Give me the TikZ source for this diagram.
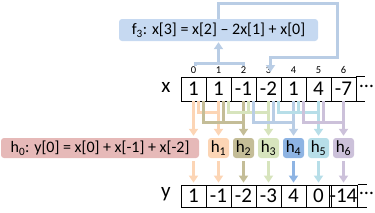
\documentclass[tikz,border=0pt]{standalone}
\usepackage{fontspec}
\setmainfont{Carlito}
\usetikzlibrary{arrows.meta}
\definecolor{fblue}{HTML}{C6D9F1}
\definecolor{fline}{HTML}{B9CDE5}
\definecolor{cpink}{HTML}{E6B9B8}
\definecolor{cpeach}{HTML}{FCD5B5}
\definecolor{ctan}{HTML}{C4BD97}
\definecolor{cgreen}{HTML}{D7E4BD}
\definecolor{cblue}{HTML}{8EB4E3}
\definecolor{cblueline}{HTML}{B9CDE5}
\definecolor{ccyan}{HTML}{B7DEE8}
\definecolor{cpurple}{HTML}{CCC1DA}
\begin{document}
\begin{tikzpicture}[x=1pt,y=-1pt,
  ln/.style={line width=3pt},
  arr/.style={line width=3pt,-{Triangle[width=9pt,length=7pt]}},
  cellx/.style={draw,line width=0.8pt,minimum width=25pt,minimum height=24pt,inner sep=0pt,font=\fontsize{21}{21}\selectfont},
  celly/.style={draw,line width=0.8pt,minimum width=25pt,minimum height=22pt,inner sep=0pt,font=\fontsize{21}{21}\selectfont},
  idx/.style={inner sep=0pt,font=\fontsize{10.5}{10.5}\selectfont},
  rowlab/.style={inner sep=0pt,font=\fontsize{21}{21}\selectfont},
  hbox/.style={rounded corners=3pt,minimum width=21pt,minimum height=20pt,inner sep=0pt,font=\fontsize{17}{17}\selectfont},
  eqbox/.style={rounded corners=3pt,inner sep=0pt,font=\fontsize{16}{16}\selectfont},
  ell/.style={inner sep=0pt,font=\fontsize{20}{20}\selectfont}]
\useasboundingbox (0,0) rectangle (375,212);
% x row
\foreach \v [count=\i from 0] in {1,1,-1,-2,1,4,-7}{
  \node[cellx] (x\i) at (193.5+25*\i,89) {\v};
  \node[idx] (i\i) at (193.5+25*\i,70) {\i};
}
\draw[line width=0.8pt] (x6.north east) -- ++(9,0) (x6.south east) -- ++(9,0);
\node[ell] (ellx) at (366.5,86) {…};
\node[rowlab] (xl) at (166,87) {x};
% y row
\foreach \v [count=\i from 0] in {1,-1,-2,-3,4,0,-14}{
  \node[celly] (y\i) at (193.5+25*\i,196) {\v};
}
\draw[line width=0.8pt] (y6.north east) -- ++(9,0) (y6.south east) -- ++(9,0);
\node[ell] (elly) at (366.5,193) {…};
\node[rowlab] (yl) at (166,194) {y};
% f3 box
\node[eqbox,fill=fblue,minimum width=199pt,minimum height=22pt] (f3) at (218.5,30) {f\textsubscript{3}: x[3] = x[2] – 2x[1] + x[0]};
% h boxes
\node[eqbox,fill=cpink,minimum width=198pt,minimum height=20pt] (h0) at (100,148) {h\textsubscript{0}: y[0] = x[0] + x[-1] + x[-2]};
\foreach \c [count=\i] in {cpeach,ctan,cgreen,cblue,ccyan,cpurple}{
  \node[hbox,fill=\c] (h\i) at (193.5+25*\i,148) {h\textsubscript{\i}};
}
% feedback and f3 input
\coordinate (fbtop) at (337,3);
\coordinate (fbmid) at (270.5,57);
\coordinate (fbend) at (270.5,72);
\draw[arr,fline] (x1.center |- f3.north) |- (fbtop) |- (fbmid) -- (fbend);
\coordinate (bl) at (195,66);
\coordinate (br) at (243.5,66);
\coordinate (bh) at (0,63);
\draw[ln,fline] (bl) -- (bl |- bh) -- (br |- bh) -- (br);
\draw[arr,fline] (x1.center |- bh) -- ([yshift=-1pt]f3.south);
% levels
\coordinate (lo) at (0,112);
\coordinate (le) at (0,122);
\coordinate (h0t) at ([yshift=2pt]h0.north);
\coordinate (h0b) at ([yshift=-3pt]h0.south);
% h0
\draw[arr,cpeach] (x0.south) -- (x0.south |- h0t);
% h1
\draw[ln,cpeach] ([xshift=5pt]x0.south) |- (x1.south |- lo);
\draw[arr,cpeach] (x1.south) -- ([yshift=2pt]h1.north);
% h2
\draw[ln,ctan] ([xshift=10pt]x0.south) |- (x2.south |- le);
\draw[ln,ctan] ([xshift=5pt]x1.south) -- ([xshift=5pt]x1.south |- le);
\draw[arr,ctan] (x2.south) -- ([yshift=2pt]h2.north);
% h3
\draw[ln,cgreen] ([xshift=10pt]x1.south) |- (x3.south |- lo);
\draw[ln,cgreen] ([xshift=5pt]x2.south) -- ([xshift=5pt]x2.south |- lo);
\draw[arr,cgreen] (x3.south) -- ([yshift=2pt]h3.north);
% h4
\draw[ln,cblueline] ([xshift=10pt]x2.south) |- (x4.south |- le);
\draw[ln,cblueline] ([xshift=5pt]x3.south) -- ([xshift=5pt]x3.south |- le);
\draw[arr,cblueline] (x4.south) -- ([yshift=2pt]h4.north);
% h5
\draw[ln,ccyan] ([xshift=10pt]x3.south) |- (x5.south |- lo);
\draw[ln,ccyan] ([xshift=5pt]x4.south) -- ([xshift=5pt]x4.south |- lo);
\draw[arr,ccyan] (x5.south) -- ([yshift=2pt]h5.north);
% h6
\draw[ln,cpurple] ([xshift=10pt]x4.south) |- (x6.south |- le);
\draw[ln,cpurple] ([xshift=5pt]x5.south) -- ([xshift=5pt]x5.south |- le);
\draw[arr,cpurple] (x6.south) -- ([yshift=2pt]h6.north);
% h to y
\draw[arr,cpeach] (y0.north |- h0b) -- ([yshift=2pt]y0.north);
\foreach \c [count=\i] in {cpeach,ctan,cgreen,cblue,ccyan,cpurple}{
  \draw[arr,\c] ([yshift=-3pt]h\i.south) -- ([yshift=2pt]y\i.north);
}
\end{tikzpicture}
\end{document}
